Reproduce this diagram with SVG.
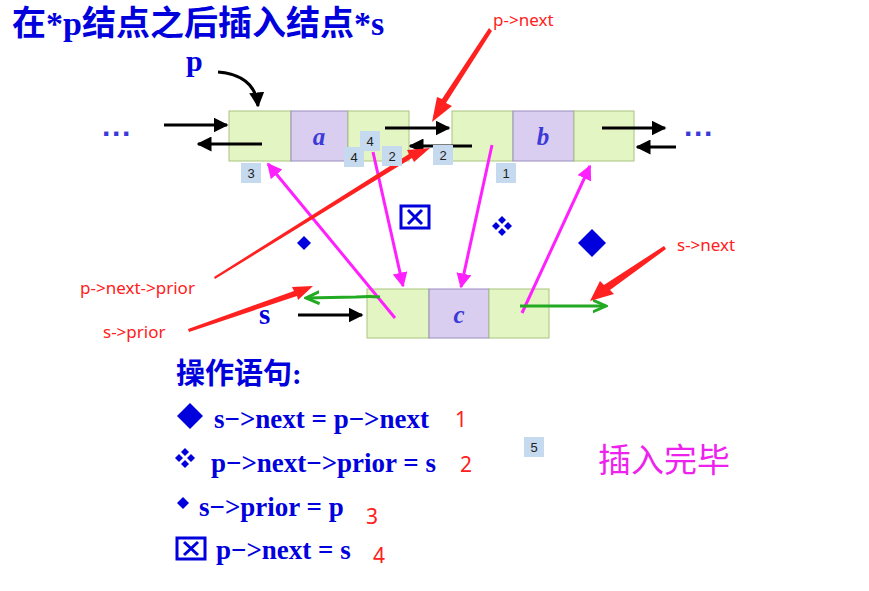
<svg xmlns="http://www.w3.org/2000/svg" width="869" height="591" viewBox="0 0 869 591">
<style>
.g{fill:#e4f5c4;stroke:#a9c47f;stroke-width:1}
.pu{fill:#d9cdf0;stroke:#9a8ebf;stroke-width:1}
.lbl{font-family:"Liberation Serif",serif;font-style:italic;font-weight:bold;fill:#3a3ad8;font-size:25px}
.bl{stroke:#000;stroke-width:3;fill:none}
.mg{stroke:#ff20ff;stroke-width:3;fill:none}
.gr{stroke:#22aa22;stroke-width:3;fill:none}
.rd{fill:#ff2020;font-family:"Noto Sans",sans-serif;font-size:17px}
.rn{fill:#ff2020;font-family:"Noto Sans",sans-serif;font-size:21px}
.tag rect{fill:#c5d9ef}
.tag text{font-family:"Liberation Sans",sans-serif;font-size:13px;fill:#222;text-anchor:middle}
.st{font-family:"Liberation Serif",serif;font-weight:bold;fill:#0000dd;font-size:27px}
.bu{fill:#0000dd}
</style>
<defs>
<marker id="ab" viewBox="0 0 10 10" refX="9" refY="5" markerWidth="5" markerHeight="5" orient="auto"><path d="M0,0L10,5L0,10z" fill="#000"/></marker>
<marker id="am" viewBox="0 0 10 10" refX="9" refY="5" markerWidth="5" markerHeight="5" orient="auto"><path d="M0,0L10,5L0,10z" fill="#ff20ff"/></marker>
<marker id="ag" viewBox="0 0 10 10" refX="9" refY="5" markerWidth="5" markerHeight="5" orient="auto"><path d="M0,1L9,5L0,9" fill="none" stroke="#22aa22" stroke-width="2"/></marker>
</defs>
<rect width="869" height="591" fill="#fff"/>
<text x="12" y="35" font-family="Liberation Serif,'Noto Sans CJK SC',serif" font-weight="bold" font-size="34" fill="#0000dd">在*p结点之后插入结点*s</text>
<text x="186" y="71" class="st" style="font-size:30px">p</text>
<text x="102" y="144" font-family="Liberation Sans,sans-serif" font-weight="bold" font-size="30" fill="#3a3ad8">···</text>
<text x="684" y="144" font-family="Liberation Sans,sans-serif" font-weight="bold" font-size="30" fill="#3a3ad8">···</text>
<text x="259" y="324" class="st" style="font-size:29px">s</text>
<g id="node-a"><rect class="g" x="229" y="111" width="62" height="50"/><rect class="pu" x="291" y="111" width="57" height="50"/><rect class="g" x="348" y="111" width="61" height="50"/><text class="lbl" x="319" y="145" text-anchor="middle">a</text></g>
<g id="node-b"><rect class="g" x="452" y="111" width="61" height="50"/><rect class="pu" x="513" y="111" width="61" height="50"/><rect class="g" x="574" y="111" width="60" height="50"/><text class="lbl" x="543" y="145" text-anchor="middle">b</text></g>
<g id="node-c"><rect class="g" x="367" y="289" width="62" height="49"/><rect class="pu" x="429" y="289" width="60" height="49"/><rect class="g" x="489" y="289" width="60" height="49"/><text class="lbl" x="459" y="323" text-anchor="middle">c</text></g>
<g id="connectors">
<path class="bl" d="M218,72 Q255,75 258,106" marker-end="url(#ab)"/>
<line class="bl" x1="164" y1="125" x2="227" y2="125" marker-end="url(#ab)"/>
<line class="bl" x1="262" y1="144" x2="198" y2="144" marker-end="url(#ab)"/>
<line class="bl" x1="385" y1="128" x2="449" y2="128" marker-end="url(#ab)"/>
<line class="bl" x1="472" y1="146" x2="410" y2="146" marker-end="url(#ab)"/>
<line class="bl" x1="602" y1="128" x2="665" y2="128" marker-end="url(#ab)"/>
<line class="bl" x1="676" y1="147" x2="637" y2="147" marker-end="url(#ab)"/>
<line class="bl" x1="298" y1="315" x2="362" y2="315" marker-end="url(#ab)"/>
<line class="mg" x1="395" y1="318" x2="268" y2="164" marker-end="url(#am)"/>
<line class="mg" x1="373" y1="152" x2="403" y2="286" marker-end="url(#am)"/>
<line class="mg" x1="492" y1="145" x2="461" y2="287" marker-end="url(#am)"/>
<line class="mg" x1="522" y1="313" x2="590" y2="166" marker-end="url(#am)"/>
<path class="gr" d="M380,297 Q370,296 356,297 L306,298" marker-end="url(#ag)"/>
<line class="gr" x1="520" y1="306" x2="606" y2="306" marker-end="url(#ag)"/>
<polygon fill="#ff2020" points="489,28 492,31 446,103 452,106 432,122 437,97 442,99"/>
<polygon fill="#ff2020" points="214,277 215,279 412,158 414,162 430,148 407,150 409,154"/>
<polygon fill="#ff2020" points="188,329 189,332 297,296 298,300 313,286 292,287 294,291"/>
<polygon fill="#ff2020" points="664,246 666,249 610,290 614,294 590,301 600,281 604,285"/>
</g>
<text class="rd" x="493" y="26">p-&gt;next</text>
<text class="rd" x="80" y="294">p-&gt;next-&gt;prior</text>
<text class="rd" x="103" y="338">s-&gt;prior</text>
<text class="rd" x="677" y="251">s-&gt;next</text>
<g class="tag"><rect x="241" y="163" width="20" height="20"/><text x="251" y="178">3</text></g>
<g class="tag"><rect x="344" y="147" width="20" height="20"/><text x="354" y="162">4</text></g>
<g class="tag"><rect x="360" y="131" width="20" height="20"/><text x="370" y="146">4</text></g>
<g class="tag"><rect x="382" y="146" width="20" height="20"/><text x="392" y="161">2</text></g>
<g class="tag"><rect x="433" y="145" width="20" height="20"/><text x="443" y="160">2</text></g>
<g class="tag"><rect x="496" y="163" width="20" height="20"/><text x="506" y="178">1</text></g>
<g class="tag"><rect x="524" y="437" width="20" height="20"/><text x="534" y="452">5</text></g>
<polygon class="bu" points="304,236 311,243 304,250 297,243"/>
<rect x="401" y="206" width="28" height="22" fill="none" stroke="#0000dd" stroke-width="3"/>
<path d="M408,210L422,224M422,210L408,224" stroke="#0000dd" stroke-width="3"/>
<g class="bu"><polygon points="502,216 506,220 502,224 498,220"/><polygon points="502,228 506,232 502,236 498,232"/><polygon points="496,222 500,226 496,230 492,226"/><polygon points="508,222 512,226 508,230 504,226"/></g>
<polygon class="bu" points="592,229 606,243 592,257 578,243"/>
<text x="176" y="384" font-family="'Liberation Serif','Noto Sans CJK SC',serif" font-weight="bold" font-size="29" fill="#0000dd">操作语句:</text>
<polygon class="bu" points="190,403 203,416 190,429 177,416"/>
<text class="st" x="214" y="428">s−&gt;next = p−&gt;next</text>
<g class="bu"><polygon points="185,448 189,452 185,456 181,452"/><polygon points="185,460 189,464 185,468 181,464"/><polygon points="179,454 183,458 179,462 175,458"/><polygon points="191,454 195,458 191,462 187,458"/></g>
<text class="st" x="211" y="472">p−&gt;next−&gt;prior = s</text>
<polygon class="bu" points="183,497 189,503 183,509 177,503"/>
<text class="st" x="199" y="516">s−&gt;prior = p</text>
<rect x="177" y="538" width="28" height="21" fill="none" stroke="#0000dd" stroke-width="3"/>
<path d="M184,542L198,555M198,542L184,555" stroke="#0000dd" stroke-width="3"/>
<text class="st" x="216" y="559">p−&gt;next = s</text>
<text class="rn" x="455" y="427">1</text>
<text class="rn" x="460" y="472">2</text>
<text class="rn" x="366" y="524">3</text>
<text class="rn" x="373" y="563">4</text>
<text x="598" y="472" font-family="'Noto Sans CJK SC',sans-serif" font-size="33" fill="#ee22ee">插入完毕</text>
</svg>
